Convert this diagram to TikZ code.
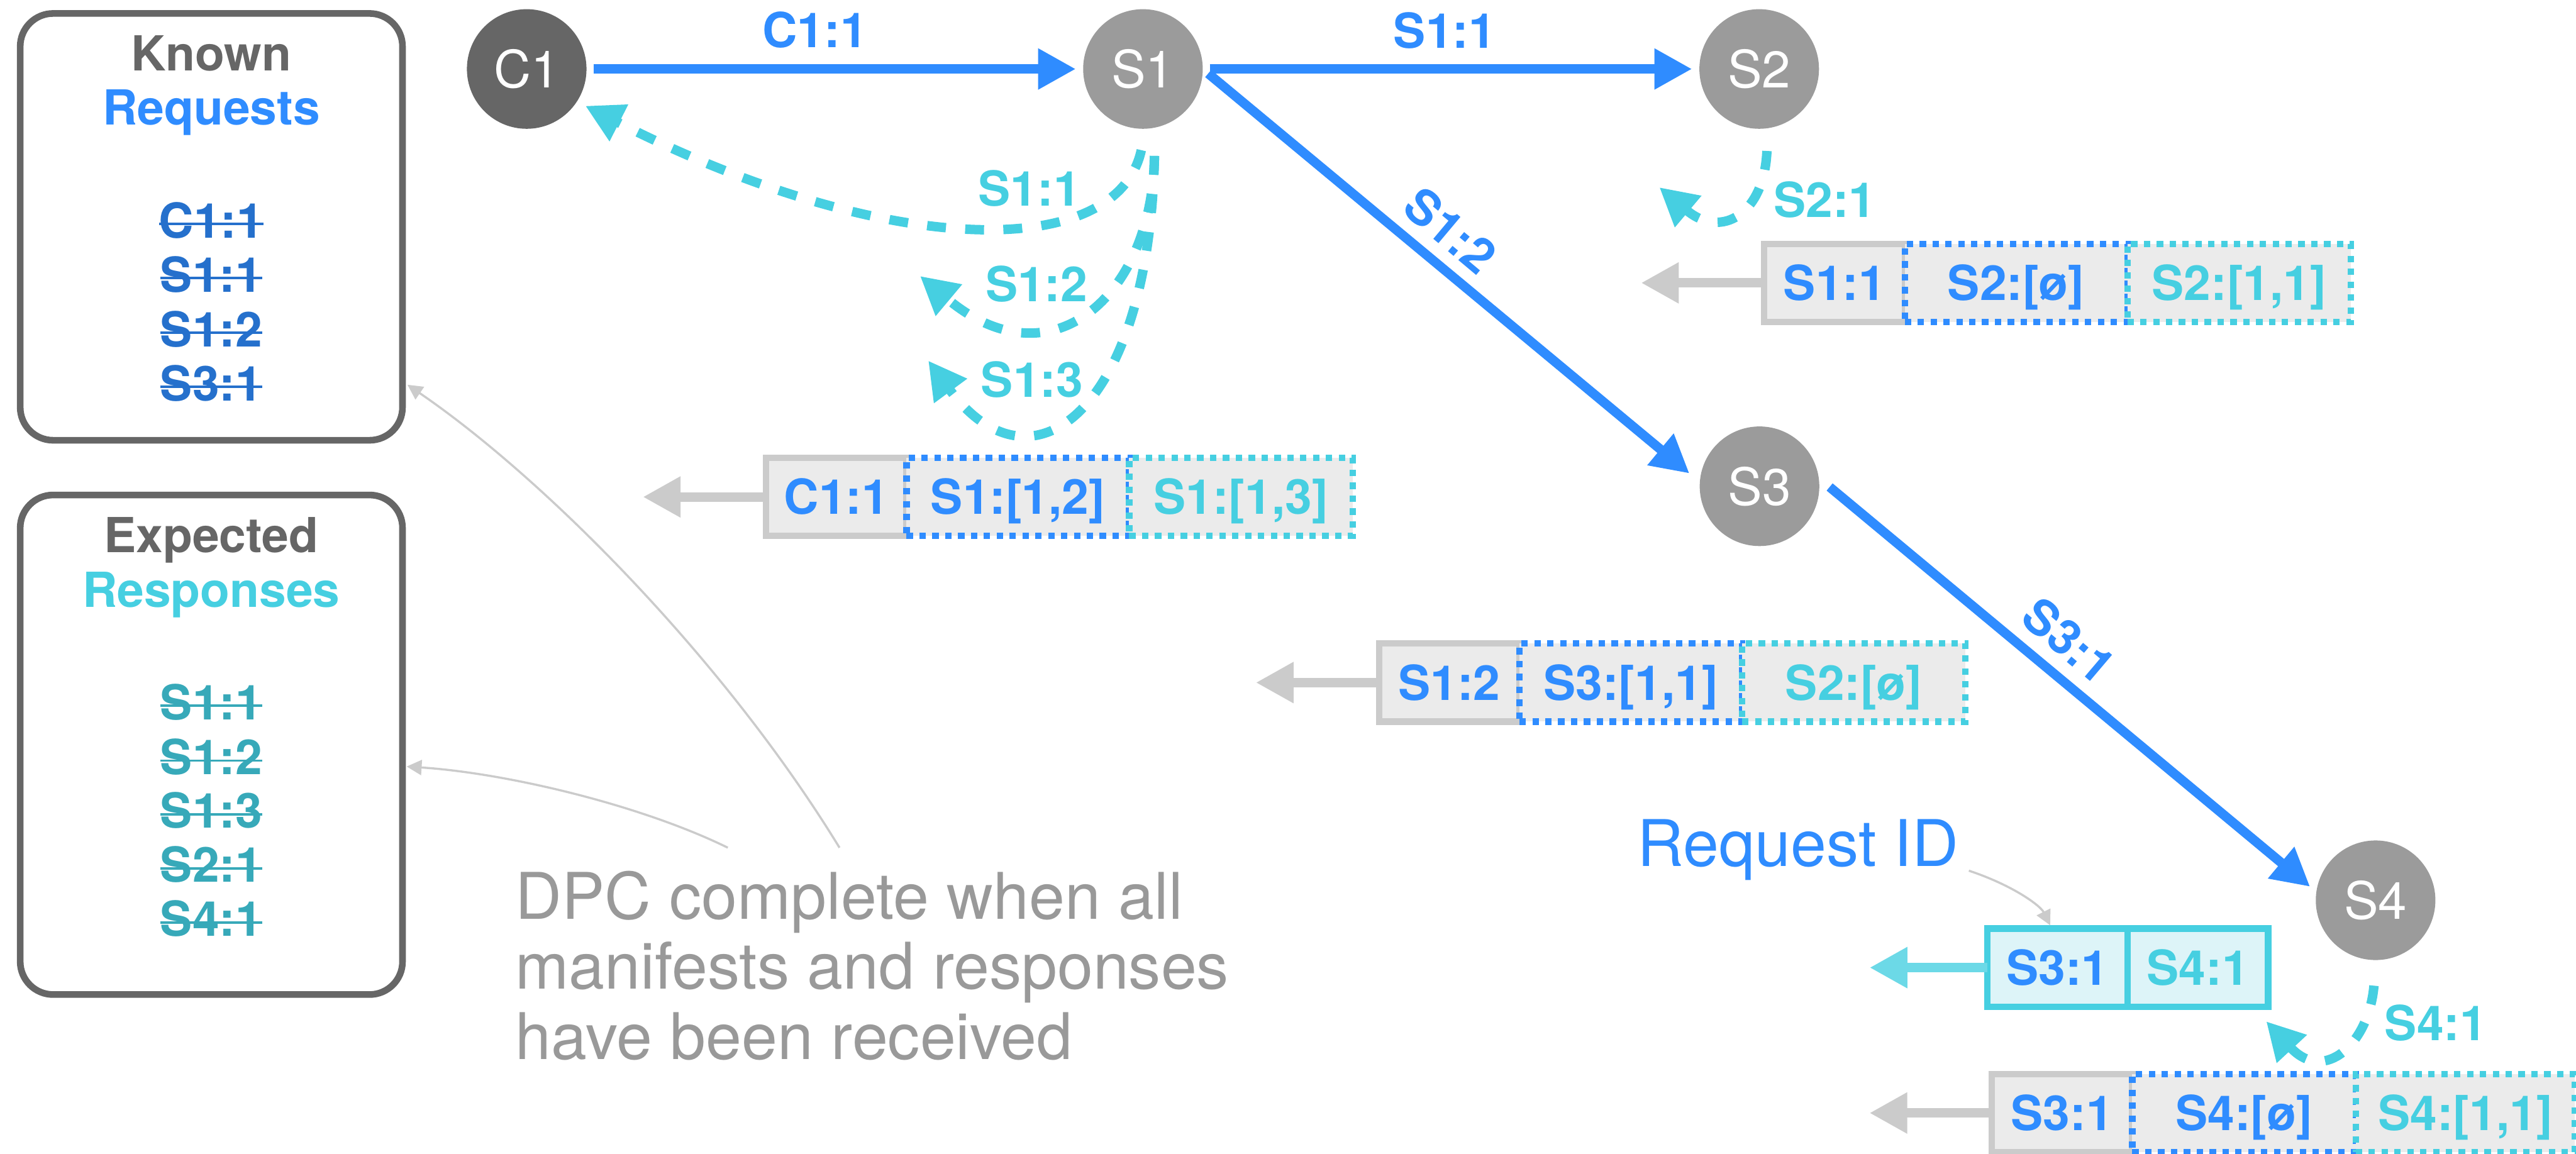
\documentclass[tikz,border=0pt]{standalone}
\usepackage{fontspec}
\setmainfont{TeX Gyre Heros}
\usetikzlibrary{arrows.meta,calc}

\definecolor{reqblue}{HTML}{2F8CFF}
\definecolor{respcyan}{HTML}{46CFE1}
\definecolor{listblue}{HTML}{2570CC}
\definecolor{listteal}{HTML}{37A9B9}
\definecolor{darknode}{HTML}{666666}
\definecolor{lightnode}{HTML}{9B9B9B}
\definecolor{frame}{HTML}{666666}
\definecolor{cellgray}{HTML}{CBCBCB}
\definecolor{cellfill}{HTML}{EBEBEB}
\definecolor{idfill}{HTML}{DDF4F8}
\definecolor{idarrow}{HTML}{6CD9E7}
\definecolor{notegray}{HTML}{999999}
\definecolor{leader}{HTML}{CBCBCB}

% struck-through entry: text with a rule across it
\newsavebox\strikebox
\newcommand\struck[1]{\sbox\strikebox{#1}\rlap{\rule[0.26em]{\wd\strikebox}{0.05em}}\usebox\strikebox}

\def\U{0.02692cm}

\begin{document}
\begin{tikzpicture}[x=\U, y=-\U,
  host/.style={circle, minimum size=72.8*\U, inner sep=0pt, outer sep=0pt, text=white,
    font=\fontsize{24}{28}\selectfont},
  req/.style={draw=reqblue, line width=4.4pt, -{Triangle[length=17.6pt,width=18pt]}},
  resp/.style={draw=respcyan, line width=4.4pt, dash pattern=on 8.8pt off 9pt,
    -{Triangle[length=17.6pt,width=18pt]}},
  lbl/.style={font=\fontsize{22.5}{26}\selectfont\bfseries, inner sep=0pt},
  panel/.style={draw=frame, line width=3.1pt, rounded corners=0.54cm, inner sep=0pt,
    outer sep=0pt, anchor=north west, minimum width=232.7*\U},
  heading/.style={lbl, anchor=base},
  entry/.style={lbl, anchor=base},
  cellbase/.style={rectangle, minimum height=47.5*\U, inner sep=0pt, outer sep=0pt,
    anchor=west, text height=16.2pt, text depth=0pt, line width=3pt, fill=cellfill,
    font=\fontsize{22.5}{26}\selectfont\bfseries},
  keycell/.style={cellbase, draw=cellgray, minimum width=85.5*\U, text=reqblue},
  mancell/.style={cellbase, draw=reqblue, dash pattern=on 3pt off 3pt,
    minimum width=135.5*\U, text=reqblue},
  respcell/.style={cellbase, draw=respcyan, dash pattern=on 3pt off 3pt,
    minimum width=136*\U, text=respcyan},
  idcell/.style={cellbase, draw=respcyan, fill=idfill, minimum width=85.5*\U},
  tablearrow/.style={draw=cellgray, line width=4.4pt, -{Triangle[length=17.6pt,width=18pt]}},
  idtablearrow/.style={draw=idarrow, line width=4.4pt, -{Triangle[length=17.6pt,width=18pt]}},
  leaderline/.style={draw=leader, line width=1pt, -{Triangle[length=7pt,width=7pt]}},
]
\useasboundingbox (0,0) rectangle (1568,702.45);

% ---------- bookkeeping panels ----------
\node[panel, minimum height=259.8*\U] (known) at (12.3,8.2) {};
\node[heading, text=frame] (knownA) at (128.6,43) {Known};
\node[heading, text=reqblue] (knownB) at (128.6,76) {Requests};
\node[entry, text=listblue] (kr1) at (128.6,144.8) {\struck{C1:1}};
\node[entry, text=listblue] (kr2) at (128.6,177.7) {\struck{S1:1}};
\node[entry, text=listblue] (kr3) at (128.6,211) {\struck{S1:2}};
\node[entry, text=listblue] (kr4) at (128.6,243.9) {\struck{S3:1}};

\node[panel, minimum height=304.1*\U] (expected) at (12.3,301.3) {};
\node[heading, text=frame] (expA) at (128.6,336.2) {Expected};
\node[heading, text=respcyan] (expB) at (128.6,369.7) {Responses};
\node[entry, text=listteal] (er1) at (128.6,438) {\struck{S1:1}};
\node[entry, text=listteal] (er2) at (128.6,471.4) {\struck{S1:2}};
\node[entry, text=listteal] (er3) at (128.6,504) {\struck{S1:3}};
\node[entry, text=listteal] (er4) at (128.6,537) {\struck{S2:1}};
\node[entry, text=listteal] (er5) at (128.6,570) {\struck{S4:1}};

% ---------- hosts ----------
\node[host, fill=darknode] (C1) at (320.6,42) {C1};
\node[host, fill=lightnode] (S1) at (695.7,42) {S1};
\node[host, fill=lightnode] (S2) at (1070.8,42) {S2};
\node[host, fill=lightnode] (S3) at (1071,296) {S3};
\node[host, fill=lightnode] (S4) at (1446,548) {S4};

% ---------- requests ----------
\draw[req, shorten <=3.3pt, shorten >=3.4pt] (C1) -- (S1);
\draw[req, shorten <=3.3pt, shorten >=3.4pt] (S1) -- (S2);
\draw[req, shorten <=3.3pt, shorten >=6.3pt] (S1.east) -- (S3.176);
\draw[req, shorten <=6.6pt, shorten >=3.8pt] (S3.8) -- (S4.172);

\node[lbl, text=reqblue, anchor=base] (lC1) at (496,28.8) {C1:1};
\node[lbl, text=reqblue, anchor=base] (lS11) at (879.3,29.1) {S1:1};
\node[lbl, text=reqblue, rotate=-40] (lS12) at (882.8,140.2) {S1:2};
\node[lbl, text=reqblue, rotate=-40.3] (lS31) at (1259.4,390) {S3:1};

% ---------- responses ----------
\coordinate (r1s) at ($(S1.south)+(-1,13)$);
\coordinate (r2s) at ($(S1.south)+(7,16.5)$);
\coordinate (r2e) at (560,168);
\coordinate (r3e) at (565,219.5);
\coordinate (s2s) at ($(S2.south)+(4.7,13.5)$);
\coordinate (s2e) at (1010,114);
\coordinate (s4s) at ($(S4.south)+(-1,15.6)$);
\coordinate (s4e) at (1379.4,621.7);

\draw[resp, shorten >=4.4pt] (r1s) .. controls +(-15,68) and +(189,96) .. (C1.-33);
\draw[resp] (r2s) .. controls +(-1,85) and +(80,67) .. (r2e);
\draw[resp] (r2s) .. controls +(-3,155) and +(63,85.5) .. (r3e);
\draw[resp] (s2s) .. controls +(-1.5,38) and +(38,32) .. (s2e);
\draw[resp] (s4s) .. controls +(-3,35) and +(35.6,38.3) .. (s4e);

\node[lbl, text=respcyan] (rl1) at (626.6,114.6) {S1:1};
\node[lbl, text=respcyan] (rl2) at (630.9,172.7) {S1:2};
\node[lbl, text=respcyan] (rl3) at (628.2,231.2) {S1:3};
\node[lbl, text=respcyan] (rl4) at (1110.7,121.6) {S2:1};
\node[lbl, text=respcyan] (rl5) at (1482.6,622.6) {S4:1};

% ---------- manifests ----------
\node[keycell] (t1a) at (466.3,302.5) {C1:1};
\node[mancell] (t1b) at (t1a.east) {S1:[1,2]};
\node[respcell] (t1c) at (t1b.east) {S1:[1,3]};
\draw[tablearrow] (t1a.west) -- ++(-75,0);

\node[keycell] (t2a) at (1073.9,172.2) {S1:1};
\node[mancell] (t2b) at (t2a.east) {S2:[ø]};
\node[respcell] (t2c) at (t2b.east) {S2:[1,1]};
\draw[tablearrow] (t2a.west) -- ++(-75,0);

\node[keycell] (t3a) at (839.4,415.5) {S1:2};
\node[mancell] (t3b) at (t3a.east) {S3:[1,1]};
\node[respcell] (t3c) at (t3b.east) {S2:[ø]};
\draw[tablearrow] (t3a.west) -- ++(-75,0);

\node[idcell, text=reqblue] (t4a) at (1209.6,589) {S3:1};
\node[idcell, text=respcyan] (t4b) at (t4a.east) {S4:1};
\draw[idtablearrow] (t4a.west) -- ++(-71.6,0);

\node[keycell] (t5a) at (1212.4,677.5) {S3:1};
\node[mancell, minimum width=136*\U] (t5b) at (t5a.east) {S4:[ø]};
\node[respcell, minimum width=133.5*\U] (t5c) at (t5b.east) {S4:[1,1]};
\draw[tablearrow] (t5a.west) -- ++(-74.5,0);

% ---------- annotations ----------
\node[anchor=base, text=reqblue, inner sep=0pt, font=\fontsize{30}{34}\selectfont]
  (reqid) at (1094.4,527.5) {Request ID};
\draw[leaderline] ($(reqid.base east)+(6,2.5)$) .. controls +(27,9) and +(-6,-12) .. ($(t4a.north)+(-4.4,-2)$);

\node[anchor=north west, align=left, text=notegray, inner sep=0pt,
  font=\fontsize{30}{32.6}\selectfont] (dpc) at (313.5,530)
  {DPC complete when all\\manifests and responses\\have been received};
\draw[leaderline] ($(dpc.north west)+(197.5,-14)$) .. controls +(-71,-116) and +(82,56) .. ($(known.north east)+(3,226)$);
\draw[leaderline] ($(dpc.north west)+(129.5,-14)$) .. controls +(-53,-26) and +(61,4) .. ($(expected.north east)+(2.5,165.3)$);
\end{tikzpicture}
\end{document}
